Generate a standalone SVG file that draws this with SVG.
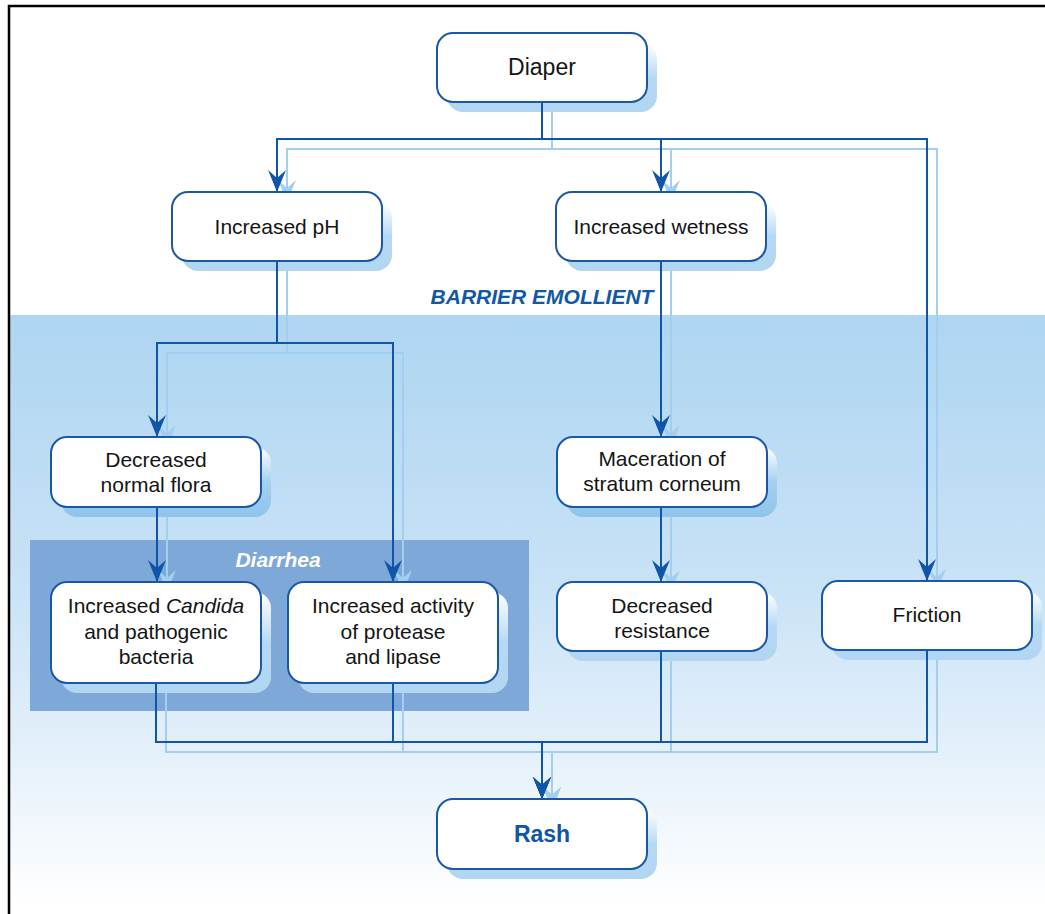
<svg xmlns="http://www.w3.org/2000/svg" width="1045" height="914" viewBox="0 0 1045 914">
  <defs>
    <linearGradient id="bandFill" gradientUnits="userSpaceOnUse" x1="0" y1="315" x2="0" y2="905">
      <stop offset="0" stop-color="#aed5f1"/>
      <stop offset="0.45" stop-color="#c8e2f6"/>
      <stop offset="0.72" stop-color="#e2effa"/>
      <stop offset="1" stop-color="#ffffff"/>
    </linearGradient>
    <linearGradient id="shadePale" x1="0" y1="0" x2="0" y2="1">
      <stop offset="0" stop-color="#ffffff"/>
      <stop offset="0.5" stop-color="#b6d9f3"/>
      <stop offset="1" stop-color="#b1d6f2"/>
    </linearGradient>
    <linearGradient id="shadeDeep" x1="0" y1="0" x2="0" y2="1">
      <stop offset="0" stop-color="#ffffff"/>
      <stop offset="0.5" stop-color="#a3d0ef"/>
      <stop offset="1" stop-color="#8ec5eb"/>
    </linearGradient>
    <marker id="head" markerUnits="userSpaceOnUse" viewBox="0 0 22 18" markerWidth="22" markerHeight="18" refX="22" refY="9" orient="auto">
      <path d="M0,0 L22,9 L0,18 L8,9 Z" fill="#0f56a8"/>
    </marker>
    <marker id="headLight" markerUnits="userSpaceOnUse" viewBox="0 0 22 18" markerWidth="22" markerHeight="18" refX="22" refY="9" orient="auto">
      <path d="M0,0 L22,9 L0,18 L8,9 Z" fill="#a2cef0"/>
    </marker>
  </defs>
  <style>
    .box { fill: #ffffff; stroke: #1a58a6; stroke-width: 2; }
    .shadow-pale { fill: url(#shadePale); }
    .shadow-deep { fill: url(#shadeDeep); }
    .label { font-family: "Liberation Sans", Arial, sans-serif; font-size: 21px; fill: #141414; text-anchor: middle; }
    .big { font-size: 23px; }
    .rash { font-weight: bold; fill: #0f56a8; }
    .zone { font-family: "Liberation Sans", Arial, sans-serif; font-size: 21px; font-weight: bold; font-style: italic; text-anchor: middle; }
    .wire { fill: none; stroke: #0f56a8; stroke-width: 2; marker-end: url(#head); }
    .wire-light { fill: none; stroke: #a2cef0; stroke-width: 2; marker-end: url(#headLight); }
  </style>

  <!-- page frame and background zones -->
  <rect x="0" y="0" width="1045" height="914" fill="#ffffff"/>
  <rect id="barrier-zone" x="10" y="315" width="1035" height="599" fill="url(#bandFill)"/>
  <path d="M9,914 V6 H1045" fill="none" stroke="#000000" stroke-width="2.5"/>
  <text class="zone" x="542" y="304" fill="#1158a8">BARRIER EMOLLIENT</text>
  <g id="diarrhea-zone">
    <rect x="30" y="540" width="499" height="171" fill="#7ea8d8"/>
    <text class="zone" x="278" y="567" fill="#ffffff">Diarrhea</text>
  </g>

  <!-- connectors: pale offset copy underneath, main lines on top -->
  <g id="connectors">
    <g id="connectors-shade" transform="translate(10,10)">
      <path class="wire-light" d="M542,102 V139 H277 V192"/>
      <path class="wire-light" d="M542,102 V139 H661 V192"/>
      <path class="wire-light" d="M542,102 V139 H927 V581"/>
      <path class="wire-light" d="M277,261 V343 H157 V437"/>
      <path class="wire-light" d="M277,261 V343 H393 V582"/>
      <path class="wire-light" d="M157,507 V582"/>
      <path class="wire-light" d="M661,261 V437"/>
      <path class="wire-light" d="M661,507 V582"/>
      <path class="wire-light" d="M156,683 V742 H542 V799"/>
      <path class="wire-light" d="M393,683 V742 H542 V799"/>
      <path class="wire-light" d="M661,651 V742 H542 V799"/>
      <path class="wire-light" d="M927,650 V742 H542 V799"/>
    </g>
  </g>

  <!-- node shadows -->
  <g id="shadows">
    <rect class="shadow-pale" x="447" y="43" width="210" height="69" rx="16"/>
    <rect class="shadow-pale" x="182" y="202" width="210" height="69" rx="16"/>
    <rect class="shadow-pale" x="566" y="202" width="210" height="69" rx="16"/>
    <rect class="shadow-deep" x="61" y="447" width="210" height="70" rx="16"/>
    <rect class="shadow-deep" x="567" y="447" width="210" height="70" rx="16"/>
    <rect class="shadow-pale" x="61" y="592" width="210" height="101" rx="16"/>
    <rect class="shadow-pale" x="298" y="592" width="210" height="101" rx="16"/>
    <rect class="shadow-pale" x="567" y="592" width="210" height="69" rx="16"/>
    <rect class="shadow-pale" x="832" y="591" width="210" height="69" rx="16"/>
    <rect class="shadow-pale" x="447" y="809" width="210" height="70" rx="16"/>
  </g>

  <g id="connectors-main">
    <path class="wire" d="M542,102 V139 H277 V192"/>
    <path class="wire" d="M542,102 V139 H661 V192"/>
    <path class="wire" d="M542,102 V139 H927 V581"/>
    <path class="wire" d="M277,261 V343 H157 V437"/>
    <path class="wire" d="M277,261 V343 H393 V582"/>
    <path class="wire" d="M157,507 V582"/>
    <path class="wire" d="M661,261 V437"/>
    <path class="wire" d="M661,507 V582"/>
    <path class="wire" d="M156,683 V742 H542 V799"/>
    <path class="wire" d="M393,683 V742 H542 V799"/>
    <path class="wire" d="M661,651 V742 H542 V799"/>
    <path class="wire" d="M927,650 V742 H542 V799"/>
  </g>

  <!-- nodes -->
  <g id="diaper">
    <rect class="box" x="437" y="33" width="210" height="69" rx="16"/>
    <text class="label big" x="542" y="75">Diaper</text>
  </g>
  <g id="increased-ph">
    <rect class="box" x="172" y="192" width="210" height="69" rx="16"/>
    <text class="label" x="277" y="234">Increased pH</text>
  </g>
  <g id="increased-wetness">
    <rect class="box" x="556" y="192" width="210" height="69" rx="16"/>
    <text class="label" x="661" y="234">Increased wetness</text>
  </g>
  <g id="decreased-flora">
    <rect class="box" x="51" y="437" width="210" height="70" rx="16"/>
    <text class="label" x="156" y="467">Decreased</text>
    <text class="label" x="156" y="492">normal flora</text>
  </g>
  <g id="maceration">
    <rect class="box" x="557" y="437" width="210" height="70" rx="16"/>
    <text class="label" x="662" y="466">Maceration of</text>
    <text class="label" x="662" y="491">stratum corneum</text>
  </g>
  <g id="candida">
    <rect class="box" x="51" y="582" width="210" height="101" rx="16"/>
    <text class="label" x="156" y="613">Increased <tspan font-style="italic">Candida</tspan></text>
    <text class="label" x="156" y="638.5">and pathogenic</text>
    <text class="label" x="156" y="663.5">bacteria</text>
  </g>
  <g id="protease-lipase">
    <rect class="box" x="288" y="582" width="210" height="101" rx="16"/>
    <text class="label" x="393" y="613">Increased activity</text>
    <text class="label" x="393" y="638.5">of protease</text>
    <text class="label" x="393" y="663.5">and lipase</text>
  </g>
  <g id="decreased-resistance">
    <rect class="box" x="557" y="582" width="210" height="69" rx="16"/>
    <text class="label" x="662" y="613">Decreased</text>
    <text class="label" x="662" y="638">resistance</text>
  </g>
  <g id="friction">
    <rect class="box" x="822" y="581" width="210" height="69" rx="16"/>
    <text class="label" x="927" y="622">Friction</text>
  </g>
  <g id="rash">
    <rect class="box" x="437" y="799" width="210" height="70" rx="16"/>
    <text class="label big rash" x="542" y="842">Rash</text>
  </g>
</svg>
